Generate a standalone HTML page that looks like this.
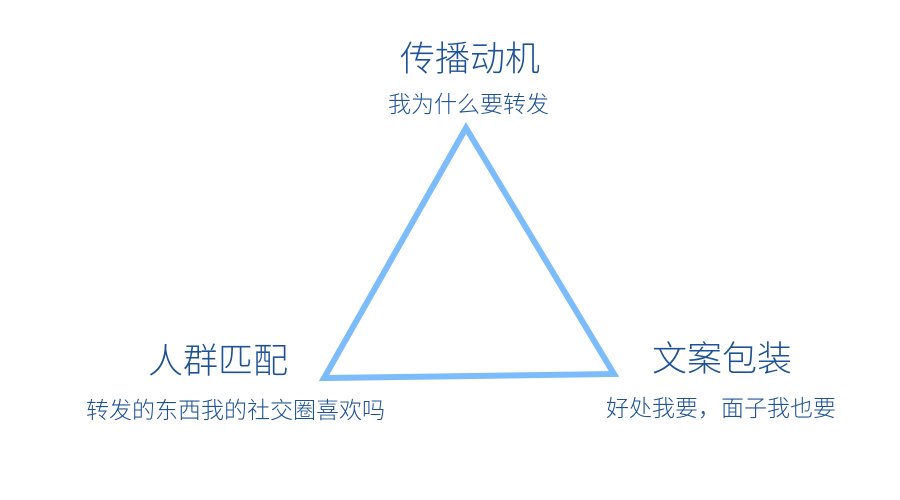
<!DOCTYPE html>
<html><head><meta charset="utf-8"><style>
body{margin:0;width:900px;height:500px;background:#fff;position:relative;overflow:hidden;font-family:"Liberation Sans","Noto Sans CJK SC",sans-serif;color:#1d5396;}
.t{position:absolute;white-space:nowrap;line-height:1;font-weight:300;}
</style></head><body>
<svg width="900" height="500" style="position:absolute;left:0;top:0">
<polygon points="466,128 324,378 614,374" fill="none" stroke="#7dbcfb" stroke-width="6" stroke-linejoin="miter"/>
</svg>
<div class="t" style="left:400px;top:42px;font-size:35px;">传播动机</div>
<div class="t" style="left:388px;top:93px;font-size:23px;">我为什么要转发</div>
<div class="t" style="left:148px;top:344px;font-size:35px;">人群匹配</div>
<div class="t" style="left:86px;top:399px;font-size:23px;">转发的东西我的社交圈喜欢吗</div>
<div class="t" style="left:652px;top:342px;font-size:35px;">文案包装</div>
<div class="t" style="left:606px;top:397px;font-size:23px;">好处我要，面子我也要</div>
</body></html>
